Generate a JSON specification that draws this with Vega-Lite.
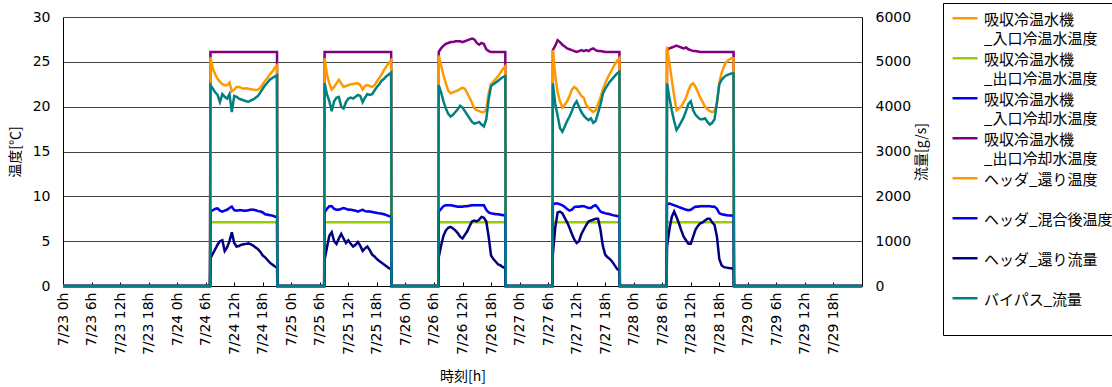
{
 "$schema": "https://vega.github.io/schema/vega-lite/v6.json",
 "width": 799, "height": 269,
 "autosize": {"type": "none"},
 "padding": {"left": 63, "top": 17, "right": 250, "bottom": 101},
 "background": "white",
 "data": {"values": [
   {"t":"2009-07-23T00:00","a":0,"b":0,"d":0,"e":0,"f":0,"g":0,"h":0},
   {"t":"2009-07-24T06:55","a":0,"b":0,"d":0,"e":0,"f":0,"g":0,"h":0},
   {"t":"2009-07-24T07:00","a":8.4,"b":7.1,"d":26.1,"e":25.5,"f":8.3,"g":620,"h":4480},
   {"t":"2009-07-24T07:30","a":8.55,"b":7.1,"d":26.1,"e":24.3,"f":8.45,"g":720,"h":4400},
   {"t":"2009-07-24T08:00","a":8.7,"b":7.1,"d":26.1,"e":23.6,"f":8.6,"g":820,"h":4320},
   {"t":"2009-07-24T08:30","a":8.75,"b":7.1,"d":26.1,"e":23.1,"f":8.65,"g":920,"h":4260},
   {"t":"2009-07-24T09:00","a":8.5,"b":7.1,"d":26.1,"e":22.8,"f":8.4,"g":1000,"h":4100},
   {"t":"2009-07-24T09:30","a":8.4,"b":7.1,"d":26.1,"e":22.5,"f":8.3,"g":1020,"h":4280},
   {"t":"2009-07-24T10:00","a":8.5,"b":7.1,"d":26.1,"e":22.4,"f":8.4,"g":780,"h":4220},
   {"t":"2009-07-24T10:30","a":8.6,"b":7.1,"d":26.1,"e":22.4,"f":8.5,"g":860,"h":4180},
   {"t":"2009-07-24T11:00","a":8.8,"b":7.1,"d":26.1,"e":22.7,"f":8.7,"g":1000,"h":4280},
   {"t":"2009-07-24T11:30","a":8.95,"b":7.1,"d":26.1,"e":21.7,"f":8.85,"g":1200,"h":3880},
   {"t":"2009-07-24T12:00","a":8.55,"b":7.1,"d":26.1,"e":21.9,"f":8.45,"g":960,"h":4240},
   {"t":"2009-07-24T12:30","a":8.5,"b":7.1,"d":26.1,"e":22.2,"f":8.4,"g":880,"h":4220},
   {"t":"2009-07-24T13:00","a":8.55,"b":7.1,"d":26.1,"e":22.2,"f":8.45,"g":890,"h":4180},
   {"t":"2009-07-24T13:30","a":8.55,"b":7.1,"d":26.1,"e":22.1,"f":8.45,"g":920,"h":4160},
   {"t":"2009-07-24T14:00","a":8.5,"b":7.1,"d":26.1,"e":22.0,"f":8.4,"g":930,"h":4140},
   {"t":"2009-07-24T14:30","a":8.5,"b":7.1,"d":26.1,"e":22.05,"f":8.4,"g":940,"h":4120},
   {"t":"2009-07-24T15:00","a":8.55,"b":7.1,"d":26.1,"e":22.0,"f":8.45,"g":950,"h":4110},
   {"t":"2009-07-24T15:30","a":8.6,"b":7.1,"d":26.1,"e":21.95,"f":8.5,"g":930,"h":4140},
   {"t":"2009-07-24T16:00","a":8.6,"b":7.1,"d":26.1,"e":21.9,"f":8.5,"g":900,"h":4160},
   {"t":"2009-07-24T16:30","a":8.55,"b":7.1,"d":26.1,"e":21.85,"f":8.45,"g":860,"h":4200},
   {"t":"2009-07-24T17:00","a":8.45,"b":7.1,"d":26.1,"e":21.9,"f":8.35,"g":820,"h":4240},
   {"t":"2009-07-24T17:30","a":8.4,"b":7.1,"d":26.1,"e":22.1,"f":8.3,"g":760,"h":4320},
   {"t":"2009-07-24T18:00","a":8.3,"b":7.1,"d":26.1,"e":22.5,"f":8.2,"g":680,"h":4400},
   {"t":"2009-07-24T18:30","a":8.1,"b":7.1,"d":26.1,"e":22.9,"f":8.0,"g":640,"h":4480},
   {"t":"2009-07-24T19:00","a":8.05,"b":7.1,"d":26.1,"e":23.2,"f":7.95,"g":580,"h":4540},
   {"t":"2009-07-24T19:30","a":8.0,"b":7.1,"d":26.1,"e":23.6,"f":7.9,"g":520,"h":4600},
   {"t":"2009-07-24T20:00","a":7.95,"b":7.1,"d":26.1,"e":23.9,"f":7.85,"g":480,"h":4640},
   {"t":"2009-07-24T20:30","a":7.85,"b":7.1,"d":26.1,"e":24.3,"f":7.75,"g":440,"h":4670},
   {"t":"2009-07-24T21:00","a":7.8,"b":7.1,"d":26.1,"e":24.6,"f":7.7,"g":410,"h":4700},
   {"t":"2009-07-24T21:05","a":0,"b":0,"d":0,"e":0,"f":0,"g":0,"h":0},
   {"t":"2009-07-25T06:55","a":0,"b":0,"d":0,"e":0,"f":0,"g":0,"h":0},
   {"t":"2009-07-25T07:00","a":8.3,"b":7.1,"d":26.1,"e":25.4,"f":8.2,"g":580,"h":4520},
   {"t":"2009-07-25T07:30","a":8.7,"b":7.1,"d":26.1,"e":23.6,"f":8.6,"g":860,"h":4280},
   {"t":"2009-07-25T08:00","a":9.0,"b":7.1,"d":26.1,"e":22.6,"f":8.9,"g":1120,"h":4120},
   {"t":"2009-07-25T08:30","a":9.0,"b":7.1,"d":26.1,"e":21.9,"f":8.9,"g":1200,"h":3900},
   {"t":"2009-07-25T09:00","a":8.7,"b":7.1,"d":26.1,"e":22.2,"f":8.6,"g":1000,"h":4120},
   {"t":"2009-07-25T09:30","a":8.6,"b":7.1,"d":26.1,"e":22.6,"f":8.5,"g":940,"h":4200},
   {"t":"2009-07-25T10:00","a":8.6,"b":7.1,"d":26.1,"e":23.0,"f":8.5,"g":1060,"h":4220},
   {"t":"2009-07-25T10:30","a":8.7,"b":7.1,"d":26.1,"e":22.6,"f":8.6,"g":1160,"h":4000},
   {"t":"2009-07-25T11:00","a":8.8,"b":7.1,"d":26.1,"e":22.2,"f":8.7,"g":1060,"h":3960},
   {"t":"2009-07-25T11:30","a":8.7,"b":7.1,"d":26.1,"e":22.3,"f":8.6,"g":960,"h":4100},
   {"t":"2009-07-25T12:00","a":8.6,"b":7.1,"d":26.1,"e":22.4,"f":8.5,"g":1020,"h":4180},
   {"t":"2009-07-25T12:30","a":8.6,"b":7.1,"d":26.1,"e":22.5,"f":8.5,"g":940,"h":4200},
   {"t":"2009-07-25T13:00","a":8.55,"b":7.1,"d":26.1,"e":22.5,"f":8.45,"g":880,"h":4180},
   {"t":"2009-07-25T13:30","a":8.5,"b":7.1,"d":26.1,"e":22.6,"f":8.4,"g":920,"h":4220},
   {"t":"2009-07-25T14:00","a":8.4,"b":7.1,"d":26.1,"e":22.6,"f":8.3,"g":980,"h":4260},
   {"t":"2009-07-25T14:30","a":8.5,"b":7.1,"d":26.1,"e":22.4,"f":8.4,"g":900,"h":4240},
   {"t":"2009-07-25T15:00","a":8.6,"b":7.1,"d":26.1,"e":21.9,"f":8.5,"g":780,"h":4100},
   {"t":"2009-07-25T15:30","a":8.45,"b":7.1,"d":26.1,"e":22.3,"f":8.35,"g":840,"h":4200},
   {"t":"2009-07-25T16:00","a":8.4,"b":7.1,"d":26.1,"e":22.4,"f":8.3,"g":880,"h":4280},
   {"t":"2009-07-25T16:30","a":8.4,"b":7.1,"d":26.1,"e":22.3,"f":8.3,"g":800,"h":4260},
   {"t":"2009-07-25T17:00","a":8.35,"b":7.1,"d":26.1,"e":22.2,"f":8.25,"g":700,"h":4280},
   {"t":"2009-07-25T17:30","a":8.3,"b":7.1,"d":26.1,"e":22.4,"f":8.2,"g":660,"h":4360},
   {"t":"2009-07-25T18:00","a":8.25,"b":7.1,"d":26.1,"e":22.8,"f":8.15,"g":600,"h":4440},
   {"t":"2009-07-25T18:30","a":8.2,"b":7.1,"d":26.1,"e":23.2,"f":8.1,"g":560,"h":4500},
   {"t":"2009-07-25T19:00","a":8.15,"b":7.1,"d":26.1,"e":23.6,"f":8.05,"g":520,"h":4580},
   {"t":"2009-07-25T19:30","a":8.1,"b":7.1,"d":26.1,"e":24.1,"f":8.0,"g":480,"h":4620},
   {"t":"2009-07-25T20:00","a":8.0,"b":7.1,"d":26.1,"e":24.5,"f":7.9,"g":440,"h":4680},
   {"t":"2009-07-25T20:30","a":7.9,"b":7.1,"d":26.1,"e":24.9,"f":7.8,"g":400,"h":4720},
   {"t":"2009-07-25T21:00","a":7.85,"b":7.1,"d":26.1,"e":25.2,"f":7.75,"g":380,"h":4760},
   {"t":"2009-07-25T21:05","a":0,"b":0,"d":0,"e":0,"f":0,"g":0,"h":0},
   {"t":"2009-07-26T06:55","a":0,"b":0,"d":0,"e":0,"f":0,"g":0,"h":0},
   {"t":"2009-07-26T07:00","a":8.4,"b":7.1,"d":26.1,"e":25.7,"f":8.3,"g":640,"h":4480},
   {"t":"2009-07-26T07:30","a":8.7,"b":7.1,"d":26.5,"e":24.6,"f":8.6,"g":900,"h":4320},
   {"t":"2009-07-26T08:00","a":9.0,"b":7.1,"d":26.8,"e":23.5,"f":8.9,"g":1120,"h":4120},
   {"t":"2009-07-26T08:30","a":9.1,"b":7.1,"d":27.0,"e":22.6,"f":9.0,"g":1240,"h":3960},
   {"t":"2009-07-26T09:00","a":9.1,"b":7.1,"d":27.1,"e":21.8,"f":9.0,"g":1300,"h":3840},
   {"t":"2009-07-26T09:30","a":9.1,"b":7.1,"d":27.2,"e":21.5,"f":9.0,"g":1320,"h":3780},
   {"t":"2009-07-26T10:00","a":9.05,"b":7.1,"d":27.2,"e":21.6,"f":8.95,"g":1280,"h":3820},
   {"t":"2009-07-26T10:30","a":9.0,"b":7.1,"d":27.3,"e":21.7,"f":8.9,"g":1240,"h":3880},
   {"t":"2009-07-26T11:00","a":8.95,"b":7.1,"d":27.3,"e":21.8,"f":8.85,"g":1180,"h":3940},
   {"t":"2009-07-26T11:30","a":8.95,"b":7.1,"d":27.3,"e":22.0,"f":8.85,"g":1100,"h":4020},
   {"t":"2009-07-26T12:00","a":8.95,"b":7.1,"d":27.2,"e":22.1,"f":8.85,"g":1060,"h":3980},
   {"t":"2009-07-26T12:30","a":9.0,"b":7.1,"d":27.3,"e":22.0,"f":8.9,"g":1140,"h":3900},
   {"t":"2009-07-26T13:00","a":9.0,"b":7.1,"d":27.4,"e":21.5,"f":8.9,"g":1220,"h":3820},
   {"t":"2009-07-26T13:30","a":9.05,"b":7.1,"d":27.5,"e":21.0,"f":8.95,"g":1340,"h":3740},
   {"t":"2009-07-26T14:00","a":9.1,"b":7.1,"d":27.6,"e":20.4,"f":9.0,"g":1440,"h":3660},
   {"t":"2009-07-26T14:30","a":9.1,"b":7.1,"d":27.5,"e":19.8,"f":9.0,"g":1460,"h":3620},
   {"t":"2009-07-26T15:00","a":9.1,"b":7.1,"d":27.1,"e":19.6,"f":9.0,"g":1440,"h":3640},
   {"t":"2009-07-26T15:30","a":9.1,"b":7.1,"d":26.9,"e":19.5,"f":9.0,"g":1480,"h":3660},
   {"t":"2009-07-26T16:00","a":9.1,"b":7.1,"d":27.1,"e":19.4,"f":9.0,"g":1540,"h":3600},
   {"t":"2009-07-26T16:30","a":9.1,"b":7.1,"d":27.0,"e":19.4,"f":9.0,"g":1520,"h":3560},
   {"t":"2009-07-26T17:00","a":8.6,"b":7.1,"d":26.4,"e":19.7,"f":8.5,"g":1440,"h":3720},
   {"t":"2009-07-26T17:30","a":8.3,"b":7.1,"d":26.2,"e":21.5,"f":8.2,"g":1100,"h":4160},
   {"t":"2009-07-26T18:00","a":8.2,"b":7.1,"d":26.1,"e":22.5,"f":8.1,"g":680,"h":4460},
   {"t":"2009-07-26T18:30","a":8.15,"b":7.1,"d":26.1,"e":22.8,"f":8.05,"g":600,"h":4500},
   {"t":"2009-07-26T19:00","a":8.1,"b":7.1,"d":26.1,"e":23.1,"f":8.0,"g":540,"h":4540},
   {"t":"2009-07-26T19:30","a":8.1,"b":7.1,"d":26.1,"e":23.4,"f":8.0,"g":480,"h":4580},
   {"t":"2009-07-26T20:00","a":8.05,"b":7.1,"d":26.1,"e":23.8,"f":7.95,"g":460,"h":4620},
   {"t":"2009-07-26T20:30","a":8.0,"b":7.1,"d":26.1,"e":24.2,"f":7.9,"g":420,"h":4660},
   {"t":"2009-07-26T21:00","a":8.0,"b":7.1,"d":26.1,"e":24.5,"f":7.9,"g":400,"h":4680},
   {"t":"2009-07-26T21:05","a":0,"b":0,"d":0,"e":0,"f":0,"g":0,"h":0},
   {"t":"2009-07-27T06:55","a":0,"b":0,"d":0,"e":0,"f":0,"g":0,"h":0},
   {"t":"2009-07-27T07:00","a":9.2,"b":7.1,"d":26.3,"e":26.3,"f":9.1,"g":700,"h":4520},
   {"t":"2009-07-27T07:30","a":9.3,"b":7.1,"d":26.8,"e":23.5,"f":9.2,"g":1300,"h":4060},
   {"t":"2009-07-27T08:00","a":9.3,"b":7.1,"d":27.4,"e":21.6,"f":9.2,"g":1640,"h":3800},
   {"t":"2009-07-27T08:30","a":9.2,"b":7.1,"d":27.2,"e":20.6,"f":9.1,"g":1660,"h":3520},
   {"t":"2009-07-27T09:00","a":9.1,"b":7.1,"d":26.9,"e":19.9,"f":9.0,"g":1620,"h":3440},
   {"t":"2009-07-27T09:30","a":8.9,"b":7.1,"d":26.7,"e":20.2,"f":8.8,"g":1520,"h":3560},
   {"t":"2009-07-27T10:00","a":8.7,"b":7.1,"d":26.5,"e":20.6,"f":8.6,"g":1420,"h":3680},
   {"t":"2009-07-27T10:30","a":8.5,"b":7.1,"d":26.4,"e":21.2,"f":8.4,"g":1300,"h":3780},
   {"t":"2009-07-27T11:00","a":8.6,"b":7.1,"d":26.3,"e":21.9,"f":8.5,"g":1160,"h":3900},
   {"t":"2009-07-27T11:30","a":8.9,"b":7.1,"d":26.2,"e":22.2,"f":8.8,"g":1040,"h":4040},
   {"t":"2009-07-27T12:00","a":8.95,"b":7.1,"d":26.1,"e":22.0,"f":8.85,"g":960,"h":4120},
   {"t":"2009-07-27T12:30","a":8.95,"b":7.1,"d":26.2,"e":21.6,"f":8.85,"g":1000,"h":4000},
   {"t":"2009-07-27T13:00","a":9.0,"b":7.1,"d":26.3,"e":21.2,"f":8.9,"g":1160,"h":3880},
   {"t":"2009-07-27T13:30","a":9.0,"b":7.1,"d":26.2,"e":21.0,"f":8.9,"g":1260,"h":3800},
   {"t":"2009-07-27T14:00","a":8.9,"b":7.1,"d":26.3,"e":20.2,"f":8.8,"g":1360,"h":3740},
   {"t":"2009-07-27T14:30","a":8.8,"b":7.1,"d":26.2,"e":19.9,"f":8.7,"g":1440,"h":3700},
   {"t":"2009-07-27T15:00","a":8.8,"b":7.1,"d":26.4,"e":19.6,"f":8.7,"g":1460,"h":3740},
   {"t":"2009-07-27T15:30","a":9.0,"b":7.1,"d":26.5,"e":19.4,"f":8.9,"g":1480,"h":3640},
   {"t":"2009-07-27T16:00","a":9.1,"b":7.1,"d":26.3,"e":19.6,"f":9.0,"g":1500,"h":3680},
   {"t":"2009-07-27T16:30","a":8.8,"b":7.1,"d":26.2,"e":20.3,"f":8.7,"g":1500,"h":3860},
   {"t":"2009-07-27T17:00","a":8.4,"b":7.1,"d":26.2,"e":21.0,"f":8.3,"g":1260,"h":4040},
   {"t":"2009-07-27T17:30","a":8.3,"b":7.1,"d":26.15,"e":21.9,"f":8.2,"g":900,"h":4280},
   {"t":"2009-07-27T18:00","a":8.2,"b":7.1,"d":26.1,"e":22.6,"f":8.1,"g":700,"h":4400},
   {"t":"2009-07-27T18:30","a":8.15,"b":7.1,"d":26.1,"e":23.2,"f":8.05,"g":640,"h":4480},
   {"t":"2009-07-27T19:00","a":8.1,"b":7.1,"d":26.1,"e":23.7,"f":8.0,"g":600,"h":4560},
   {"t":"2009-07-27T19:30","a":8.0,"b":7.1,"d":26.1,"e":24.2,"f":7.9,"g":540,"h":4620},
   {"t":"2009-07-27T20:00","a":7.95,"b":7.1,"d":26.1,"e":24.7,"f":7.85,"g":460,"h":4680},
   {"t":"2009-07-27T20:30","a":7.9,"b":7.1,"d":26.1,"e":25.1,"f":7.8,"g":380,"h":4740},
   {"t":"2009-07-27T21:00","a":7.85,"b":7.1,"d":26.1,"e":25.4,"f":7.75,"g":340,"h":4780},
   {"t":"2009-07-27T21:05","a":0,"b":0,"d":0,"e":0,"f":0,"g":0,"h":0},
   {"t":"2009-07-28T06:55","a":0,"b":0,"d":0,"e":0,"f":0,"g":0,"h":0},
   {"t":"2009-07-28T07:00","a":9.2,"b":7.1,"d":26.3,"e":26.7,"f":9.1,"g":880,"h":4520},
   {"t":"2009-07-28T07:30","a":9.3,"b":7.1,"d":26.5,"e":24.9,"f":9.2,"g":1260,"h":4200},
   {"t":"2009-07-28T08:00","a":9.2,"b":7.1,"d":26.6,"e":23.0,"f":9.1,"g":1540,"h":3920},
   {"t":"2009-07-28T08:30","a":9.1,"b":7.1,"d":26.7,"e":21.2,"f":9.0,"g":1660,"h":3680},
   {"t":"2009-07-28T09:00","a":9.0,"b":7.1,"d":26.8,"e":19.6,"f":8.9,"g":1540,"h":3480},
   {"t":"2009-07-28T09:30","a":8.9,"b":7.1,"d":26.7,"e":19.8,"f":8.8,"g":1400,"h":3560},
   {"t":"2009-07-28T10:00","a":8.8,"b":7.1,"d":26.6,"e":20.0,"f":8.7,"g":1240,"h":3660},
   {"t":"2009-07-28T10:30","a":8.7,"b":7.1,"d":26.5,"e":20.5,"f":8.6,"g":1100,"h":3760},
   {"t":"2009-07-28T11:00","a":8.6,"b":7.1,"d":26.6,"e":21.0,"f":8.5,"g":1020,"h":3900},
   {"t":"2009-07-28T11:30","a":8.55,"b":7.1,"d":26.4,"e":21.8,"f":8.45,"g":940,"h":4060},
   {"t":"2009-07-28T12:00","a":8.6,"b":7.1,"d":26.3,"e":22.4,"f":8.5,"g":940,"h":4120},
   {"t":"2009-07-28T12:30","a":8.8,"b":7.1,"d":26.2,"e":22.6,"f":8.7,"g":1100,"h":3920},
   {"t":"2009-07-28T13:00","a":8.95,"b":7.1,"d":26.2,"e":22.2,"f":8.85,"g":1260,"h":3820},
   {"t":"2009-07-28T13:30","a":8.95,"b":7.1,"d":26.15,"e":21.6,"f":8.85,"g":1340,"h":3760},
   {"t":"2009-07-28T14:00","a":9.0,"b":7.1,"d":26.1,"e":21.0,"f":8.9,"g":1400,"h":3720},
   {"t":"2009-07-28T14:30","a":9.0,"b":7.1,"d":26.1,"e":20.5,"f":8.9,"g":1420,"h":3720},
   {"t":"2009-07-28T15:00","a":9.0,"b":7.1,"d":26.1,"e":20.0,"f":8.9,"g":1460,"h":3740},
   {"t":"2009-07-28T15:30","a":9.0,"b":7.1,"d":26.1,"e":19.7,"f":8.9,"g":1500,"h":3660},
   {"t":"2009-07-28T16:00","a":9.0,"b":7.1,"d":26.1,"e":19.5,"f":8.9,"g":1500,"h":3600},
   {"t":"2009-07-28T16:30","a":8.95,"b":7.1,"d":26.1,"e":19.4,"f":8.85,"g":1420,"h":3640},
   {"t":"2009-07-28T17:00","a":8.95,"b":7.1,"d":26.1,"e":19.5,"f":8.85,"g":1360,"h":3720},
   {"t":"2009-07-28T17:30","a":8.7,"b":7.1,"d":26.1,"e":20.3,"f":8.6,"g":1100,"h":4100},
   {"t":"2009-07-28T18:00","a":8.2,"b":7.1,"d":26.1,"e":22.7,"f":8.1,"g":600,"h":4500},
   {"t":"2009-07-28T18:30","a":8.1,"b":7.1,"d":26.1,"e":23.8,"f":8.0,"g":460,"h":4600},
   {"t":"2009-07-28T19:00","a":8.05,"b":7.1,"d":26.1,"e":24.5,"f":7.95,"g":420,"h":4660},
   {"t":"2009-07-28T19:30","a":8.0,"b":7.1,"d":26.1,"e":25.0,"f":7.9,"g":410,"h":4700},
   {"t":"2009-07-28T20:00","a":7.95,"b":7.1,"d":26.1,"e":25.2,"f":7.85,"g":400,"h":4720},
   {"t":"2009-07-28T20:30","a":7.95,"b":7.1,"d":26.1,"e":25.4,"f":7.85,"g":394,"h":4740},
   {"t":"2009-07-28T21:00","a":7.9,"b":7.1,"d":26.1,"e":25.4,"f":7.8,"g":380,"h":4740},
   {"t":"2009-07-28T21:05","a":0,"b":0,"d":0,"e":0,"f":0,"g":0,"h":0},
   {"t":"2009-07-30T00:00","a":0,"b":0,"d":0,"e":0,"f":0,"g":0,"h":0}
 ]},
 "transform": [
  {"fold": ["a", "b", "d", "e", "f", "g", "h"], "as": ["k", "v"]}
 ],
 "encoding": {
  "x": {
   "field": "t", "type": "temporal",
   "scale": {"domain": [{"year": 2009, "month": 7, "date": 23}, {"year": 2009, "month": 7, "date": 30}], "nice": false},
   "axis": {
    "title": "時刻[h]",
    "values": [
     {"year": 2009, "month": 7, "date": 23, "hours": 0}, {"year": 2009, "month": 7, "date": 23, "hours": 6}, {"year": 2009, "month": 7, "date": 23, "hours": 12}, {"year": 2009, "month": 7, "date": 23, "hours": 18},
     {"year": 2009, "month": 7, "date": 24, "hours": 0}, {"year": 2009, "month": 7, "date": 24, "hours": 6}, {"year": 2009, "month": 7, "date": 24, "hours": 12}, {"year": 2009, "month": 7, "date": 24, "hours": 18},
     {"year": 2009, "month": 7, "date": 25, "hours": 0}, {"year": 2009, "month": 7, "date": 25, "hours": 6}, {"year": 2009, "month": 7, "date": 25, "hours": 12}, {"year": 2009, "month": 7, "date": 25, "hours": 18},
     {"year": 2009, "month": 7, "date": 26, "hours": 0}, {"year": 2009, "month": 7, "date": 26, "hours": 6}, {"year": 2009, "month": 7, "date": 26, "hours": 12}, {"year": 2009, "month": 7, "date": 26, "hours": 18},
     {"year": 2009, "month": 7, "date": 27, "hours": 0}, {"year": 2009, "month": 7, "date": 27, "hours": 6}, {"year": 2009, "month": 7, "date": 27, "hours": 12}, {"year": 2009, "month": 7, "date": 27, "hours": 18},
     {"year": 2009, "month": 7, "date": 28, "hours": 0}, {"year": 2009, "month": 7, "date": 28, "hours": 6}, {"year": 2009, "month": 7, "date": 28, "hours": 12}, {"year": 2009, "month": 7, "date": 28, "hours": 18},
     {"year": 2009, "month": 7, "date": 29, "hours": 0}, {"year": 2009, "month": 7, "date": 29, "hours": 6}, {"year": 2009, "month": 7, "date": 29, "hours": 12}, {"year": 2009, "month": 7, "date": 29, "hours": 18}
    ],
    "labelAngle": 270,
    "format": "%-m/%d %-Hh",
    "labelOverlap": false,
    "labelFlush": false,
    "grid": false,
    "tickSize": -4,
    "labelPadding": 10,
    "titlePadding": 15
   }
  },
  "color": {
   "field": "k", "type": "nominal",
   "scale": {
    "domain": ["a", "b", "c", "d", "e", "f", "g", "h"],
    "range": ["#FF9900", "#99CC00", "#0000FF", "#800080", "#FF9900", "#0000FF", "#000080", "#008080"]
   },
   "legend": {
    "title": null,
    "orient": "none",
    "legendX": 880,
    "legendY": -14,
    "symbolType": "M-1,-0.54L1,-0.54",
    "symbolSize": 625,
    "symbolStrokeWidth": 2.5,
    "symbolFillColor": "transparent",
    "labelFont": "Noto Sans CJK JP",
    "labelFontSize": 15,
    "labelColor": "#000",
    "labelLimit": 300,
    "labelOffset": 5,
    "labelBaseline": "alphabetic",
    "labelExpr": "{'a': ['吸収冷温水機', '_入口冷温水温度'], 'b': ['吸収冷温水機', '_出口冷温水温度'], 'c': ['吸収冷温水機', '_入口冷却水温度'], 'd': ['吸収冷温水機', '_出口冷却水温度'], 'e': ['ヘッダ_還り温度', ' '], 'f': ['ヘッダ_混合後温度', ' '], 'g': ['ヘッダ_還り流量', ' '], 'h': ['バイパス_流量', ' ']}[datum.label]",
    "strokeColor": "#000",
    "fillColor": "#fff",
    "padding": 8,
    "rowPadding": 4
   }
  }
 },
 "layer": [
  {
   "layer": [
    {
     "transform": [{"filter": "datum.k == 'a'"}],
     "mark": {"type": "line", "strokeWidth": 1},
     "encoding": {
      "y": {"field": "v", "type": "quantitative", "scale": {"domain": [0, 30], "nice": false},
       "axis": {"title": "温度[℃]", "values": [0, 5, 10, 15, 20, 25, 30], "grid": true, "ticks": false, "labelPadding": 13, "titlePadding": 10}}
     }
    },
    {
     "transform": [{"filter": "datum.k == 'b' || datum.k == 'd' || datum.k == 'e' || datum.k == 'f'"}],
     "mark": {"type": "line", "strokeWidth": 2.5},
     "encoding": {
      "y": {"field": "v", "type": "quantitative", "scale": {"domain": [0, 30], "nice": false},
       "axis": {"title": "温度[℃]", "values": [0, 5, 10, 15, 20, 25, 30], "grid": true, "ticks": false, "labelPadding": 13, "titlePadding": 10}}
     }
    }
   ]
  },
  {
   "transform": [{"filter": "datum.k == 'g' || datum.k == 'h'"}],
   "mark": {"type": "line", "strokeWidth": 2.5},
   "encoding": {
    "y": {"field": "v", "type": "quantitative", "scale": {"domain": [0, 6000], "nice": false},
     "axis": {"title": "流量[g/s]", "orient": "right", "values": [0, 1000, 2000, 3000, 4000, 5000, 6000], "format": "d", "grid": false, "ticks": false, "labelPadding": 13, "titleAngle": 270, "titleBaseline": "top", "titlePadding": 4}}
   }
  }
 ],
 "resolve": {"scale": {"y": "independent"}},
 "config": {
  "view": {"stroke": null},
  "style": {"guide-label": {"lineHeight": 19}},
  "axis": {
   "domainColor": "#000", "domainWidth": 1,
   "gridColor": "#444", "gridWidth": 1,
   "tickColor": "#000",
   "labelFont": "DejaVu Sans", "labelFontSize": 14, "labelColor": "#000",
   "titleFont": "Noto Sans CJK JP", "titleFontSize": 14, "titleFontWeight": "normal", "titleColor": "#000"
  }
 }
}
